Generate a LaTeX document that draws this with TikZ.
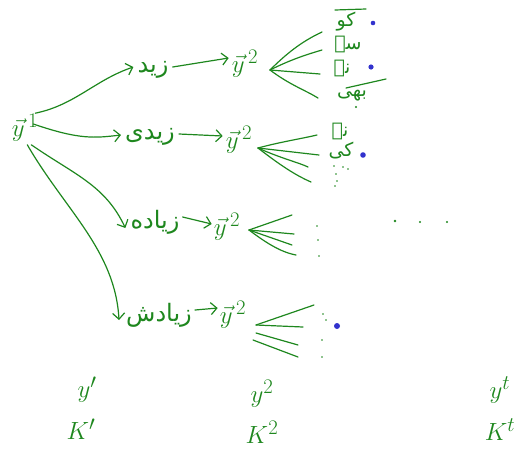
\documentclass[tikz,border=0pt]{standalone}
\usepackage{fontspec}
\TeXXeTstate=1
\newfontfamily\arabicfont[Script=Arabic]{DejaVu Sans}
\usetikzlibrary{arrows.meta}
\definecolor{pen}{RGB}{30,135,30}
\definecolor{ink}{RGB}{50,50,205}
\begin{document}
\begin{tikzpicture}[x=1pt,y=-1pt,
  lbl/.style={text=pen, inner sep=1pt, font=\fontsize{30}{32}\selectfont},
  bot/.style={text=pen, inner sep=1pt, font=\fontsize{28}{30}\selectfont},
  word/.style={text=pen, inner sep=1pt, font=\arabicfont\fontsize{24}{26}\selectfont},
  small/.style={text=pen, inner sep=1pt, font=\arabicfont\fontsize{19}{21}\selectfont},
  arr/.style={draw=pen, line width=1.2pt, line cap=round, -{Straight Barb[length=6pt,width=12pt]}},
  fan/.style={draw=pen, line width=1.2pt, line cap=round},
  dotb/.style={fill=ink, draw=none},
  dotg/.style={fill=pen, draw=none}]
\useasboundingbox (0,0) rectangle (524,448);

% root
\node[lbl] (y1) at (25,128) {$\vec{y}^{\,1}$};

% level-1 words
\node[word] (w1) at (153,70) {\beginR زید\endR};
\node[word] (w2) at (150,137) {\beginR زیدی\endR};
\node[word] (w3) at (155,222) {\beginR زیاده\endR};
\node[word] (w4) at (159,315) {\beginR زیادش\endR};

% y2 nodes
\node[lbl] (y2a) at (245,64) {$\vec{y}^{\,2}$};
\node[lbl] (y2b) at (239,140) {$\vec{y}^{\,2}$};
\node[lbl] (y2c) at (227,227) {$\vec{y}^{\,2}$};
\node[lbl] (y2d) at (233,315) {$\vec{y}^{\,2}$};

% branches from root
\draw[arr] ([xshift=-4pt]y1.north east) .. controls (75,105) and (95,80) .. ([xshift=-3pt,yshift=3pt]w1.west);
\draw[arr] ([xshift=-6pt,yshift=4pt]y1.east) .. controls (80,140) and (95,138) .. ([xshift=-3pt,yshift=2pt]w2.west);
\draw[arr] ([xshift=-8pt,yshift=-2pt]y1.south east) .. controls (75,175) and (105,185) .. ([xshift=-4pt,yshift=-6pt]w3.west);
\draw[arr] ([xshift=-12pt,yshift=-2pt]y1.south east) .. controls (65,210) and (115,250) .. ([xshift=-6pt,yshift=-5pt]w4.west);

% word -> y2
\draw[arr] ([xshift=3pt,yshift=3pt]w1.east) -- ([xshift=-2pt,yshift=6pt]y2a.west);
\draw[arr] ([xshift=3pt,yshift=3pt]w2.east) -- ([xshift=-2pt,yshift=4pt]y2b.west);
\draw[arr] ([xshift=2pt,yshift=5pt]w3.east) -- ([xshift=-1pt,yshift=3pt]y2c.west);
\draw[arr] ([xshift=2pt,yshift=5pt]w4.east) -- ([xshift=-1pt,yshift=7pt]y2d.west);

% fan 1
\coordinate (f1) at (270,70);
\draw[fan] (f1) .. controls (290,50) and (305,40) .. (322,32);
\draw[fan] (f1) .. controls (290,60) and (305,55) .. (322,50);
\draw[fan] (f1) -- (320,74);
\draw[fan] (f1) .. controls (290,85) and (305,90) .. (318,98);
\node[small] (c1) at (346,22) {\beginR کو\endR};
\draw[fan] (335,10) -- (366,9);
\node[small] (c2) at (348,44) {\beginR سے\endR};
\node[small] (c3) at (342,68) {\beginR نے\endR};
\node[small] (c4) at (352,96) {\beginR بھی\endR};
\draw[fan] (346,88) -- (386,79);
\fill[dotb] (373,23) circle (2.3pt);
\fill[dotb] (371,67) circle (2.6pt);
\fill[dotg] (356,107) circle (1.2pt);

% fan 2
\coordinate (f2) at (258,148);
\draw[fan] (f2) .. controls (280,142) and (300,139) .. (317,135);
\draw[fan] (f2) -- (319,155);
\draw[fan] (f2) .. controls (280,158) and (300,163) .. (308,167);
\draw[fan] (f2) .. controls (280,165) and (295,175) .. (311,182);
\node[small] (c5) at (340,131) {\beginR نے\endR};
\node[small] (c6) at (341,151) {\beginR کی\endR};
\fill[dotb] (363,155) circle (2.8pt);
\foreach \p in {(334,166),(343,167),(348,169),(336,174),(337,181),(335,186)} \fill[dotg] \p circle (0.9pt);

% fan 3
\coordinate (f3) at (249,230);
\draw[fan] (f3) -- (292,215);
\draw[fan] (f3) -- (294,234);
\draw[fan] (f3) -- (292,245);
\draw[fan] (f3) .. controls (265,242) and (280,252) .. (296,255);
\fill[dotg] (317,226) circle (0.9pt);
\fill[dotg] (318,240) circle (0.9pt);
\fill[dotg] (319,256) circle (0.9pt);
\fill[dotg] (395,221) circle (1.4pt);
\fill[dotg] (420,222) circle (1.2pt);
\fill[dotg] (447,222) circle (1.2pt);

% fan 4
\coordinate (f4) at (256,325);
\draw[fan] (f4) -- (314,305);
\draw[fan] (f4) -- (303,327);
\draw[fan] (256,333) -- (298,345);
\draw[fan] (253,340) -- (298,357);
\fill[dotb] (337,326) circle (3pt);
\foreach \p in {(323,314),(326,320),(322,340),(322,357)} \fill[dotg] \p circle (0.9pt);

% bottom labels
\node[bot] (Y1) at (87,390) {$y^{\prime}$};
\node[bot] (K1) at (81,429) {$K^{\prime}$};
\node[bot] (Y2) at (262,394) {$y^{2}$};
\node[bot] (K2) at (262,432) {$K^{2}$};
\node[bot] (Yt) at (500,390) {$y^{t}$};
\node[bot] (Kt) at (500,430) {$K^{t}$};
\end{tikzpicture}
\end{document}
